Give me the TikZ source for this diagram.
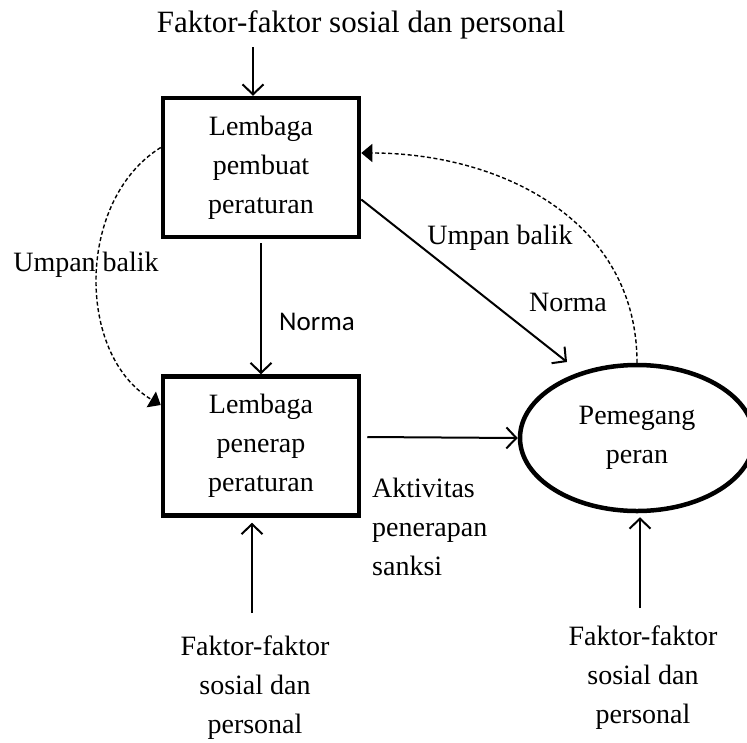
\documentclass[tikz,border=0pt]{standalone}
\usepackage{fontspec}
\setmainfont{Liberation Serif}
\newfontfamily\carl{Carlito}
\usetikzlibrary{arrows.meta,shapes.geometric}
\begin{document}
\begin{tikzpicture}[x=1pt,y=-1pt,
  txt/.style={font=\fontsize{28}{39}\selectfont, align=center, inner sep=0pt},
  boxnode/.style={txt, draw, line width=4.5pt, minimum width=196pt, minimum height=139pt},
  ellnode/.style={txt, draw, ellipse, line width=4.5pt, minimum width=234pt, minimum height=146pt},
  arr/.style={line width=2pt, -{Straight Barb[length=10pt,width=21pt]}},
  dasharr/.style={line width=1.4pt, dash pattern=on 4pt off 2.5pt, -{Triangle[length=11pt,width=18pt]}},
]
\useasboundingbox (0,0) rectangle (747,742);

% nodes
\node[txt, font=\fontsize{31}{39}\selectfont] (t1) at (361,25) {Faktor-faktor sosial dan personal};
\node[boxnode] (b1) at (261,167.5) {Lembaga\\pembuat\\peraturan};
\node[boxnode] (b2) at (261,446) {Lembaga\\penerap\\peraturan};
\node[ellnode] (ell) at (637,438) {Pemegang\\peran};

\node[txt] (lbl1) at (86,265) {Umpan balik};
\node[txt, font=\carl\fontsize{27}{39}\selectfont] (lbl2) at (317,322) {Norma};
\node[txt] (lbl3) at (500,238) {Umpan balik};
\node[txt] (lbl4) at (568,302) {Norma};
\node[txt, align=left, anchor=west] (lbl5) at (372,527) {Aktivitas\\penerapan\\sanksi};
\node[txt] (f2) at (255,688) {Faktor-faktor\\sosial dan\\personal};
\node[txt] (f3) at (643,678) {Faktor-faktor\\sosial dan\\personal};

% coordinates for free ends
\coordinate (a1) at (253,47);
\coordinate (n1) at (567,362);
\coordinate (a2) at (252,613);
\coordinate (a3) at (640,608);

% solid connectors
\draw[arr] (a1) -- (a1 |- b1.north);
\draw[arr] ([yshift=-4pt]b1.south) -- (b2.north);
\draw[arr] ([yshift=-32pt]b1.east) -- (n1);
\draw[arr] ([xshift=6pt,yshift=9pt]b2.east) -- (ell.west);
\draw[arr, shorten >=5pt] (a2) -- (a2 |- b2.south);
\draw[arr, shorten >=4pt] (a3) -- (a3 |- ell.south);

% dashed feedback connectors
\draw[dasharr] (ell.north) .. controls (637,220) and (500,153) .. ([yshift=14.5pt]b1.east);
\draw[dasharr] ([yshift=20pt]b1.west) .. controls (76,200) and (76,355) .. ([yshift=41pt]b2.west);
\end{tikzpicture}
\end{document}
